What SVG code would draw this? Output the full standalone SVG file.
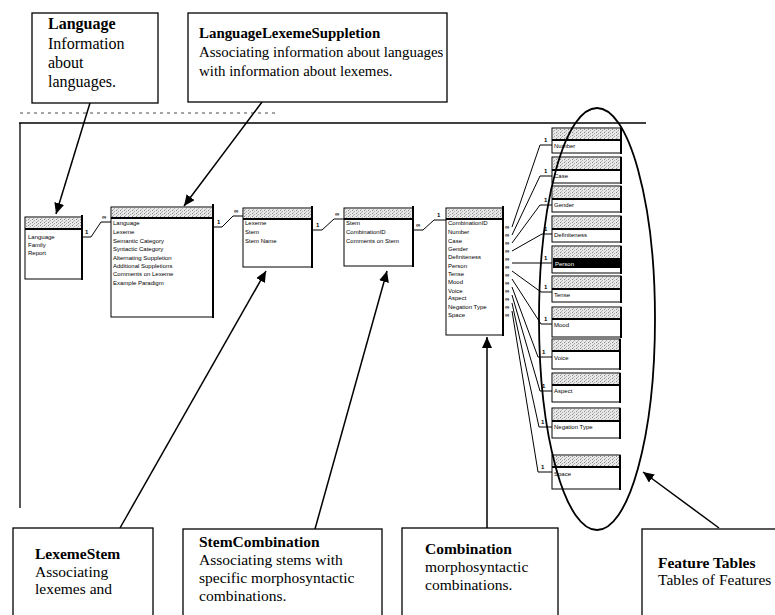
<svg xmlns="http://www.w3.org/2000/svg" width="775" height="615" viewBox="0 0 775 615">
<defs>
<style>
.callout{fill:#fff;stroke:#000;stroke-width:1.3}
.ct{font-family:"Liberation Serif","Times New Roman",serif;font-size:15.5px;fill:#000}
.bold{font-weight:bold}
.tbl{fill:#fff;stroke:#000;stroke-width:1}
.edge{stroke:#000;stroke-width:2;fill:none}
.hdr{fill:url(#hatch);stroke:none}
.fld{font-family:"Liberation Sans",Arial,sans-serif;font-size:6px;fill:#000}
.arrow{stroke:#000;stroke-width:1.5;fill:none;marker-end:url(#ah)}
.rel{stroke:#000;stroke-width:1;fill:none}
.lbl{font-family:"Liberation Sans",Arial,sans-serif;font-size:6px;font-weight:bold;fill:#000}
.frame{stroke:#000;stroke-width:1.3;fill:none}
</style>
<pattern id="hatch" width="4" height="3" patternUnits="userSpaceOnUse">
<rect width="4" height="3" fill="#e8e8e8"/>
<rect x="0" y="0" width="1" height="1" fill="#888"/>
<rect x="2" y="1" width="1" height="1" fill="#aaa"/>
<rect x="1" y="2" width="1" height="1" fill="#bbb"/>
</pattern>
<marker id="ah" markerWidth="12" markerHeight="12" refX="11" refY="5" orient="auto" markerUnits="userSpaceOnUse">
<path d="M0,0 L11,5 L0,10 z" fill="#000"/>
</marker>
</defs>
<rect width="775" height="615" fill="#fff"/>

<!-- screenshot frame -->
<g id="frame">
<line class="frame" x1="19" y1="123" x2="646" y2="123"/>
<line class="frame" x1="20" y1="123" x2="20" y2="508"/>
<line x1="20" y1="113" x2="275" y2="113" stroke="#888" stroke-width="1.5" stroke-dasharray="3,4"/>
</g>

<!-- connectors -->
<g id="connectors">
<line class="arrow" x1="90" y1="103" x2="56" y2="214"/>
<line class="arrow" x1="262" y1="102" x2="184" y2="206"/>
<line class="arrow" x1="120" y1="528" x2="266" y2="271"/>
<line class="arrow" x1="315" y1="529" x2="387" y2="271"/>
<line class="arrow" x1="487" y1="528" x2="487" y2="337"/>
<line class="arrow" x1="719" y1="528" x2="643" y2="472"/>
<!-- relationships -->
<polyline class="rel" points="82,237 91,237 101,222 111,222"/>
<text class="lbl" x="85" y="234">1</text>
<text class="lbl" x="102" y="219">∞</text>
<polyline class="rel" points="214,227 222,227 233,216 243,216"/>
<text class="lbl" x="217" y="224">1</text>
<text class="lbl" x="234" y="213">∞</text>
<polyline class="rel" points="313,230 322,230 334,219 344,219"/>
<text class="lbl" x="316" y="227">1</text>
<text class="lbl" x="335" y="216">∞</text>
<polyline class="rel" points="414,230 423,230 434,220 446,220"/>
<text class="lbl" x="416" y="227">∞</text>
<text class="lbl" x="437" y="217">1</text>
<!-- combination to features -->
<g class="rel">
<polyline points="512,227 540,145 552,145"/>
<polyline points="512,235 540,176 552,176"/>
<polyline points="512,243 540,205 552,205"/>
<polyline points="512,251 542,234 552,234"/>
<polyline points="512,263 552,263"/>
<polyline points="512,271 541,292 552,292"/>
<polyline points="512,279 541,324 552,324"/>
<polyline points="512,287 538,357 552,357"/>
<polyline points="512,295 540,391 552,391"/>
<polyline points="512,303 539,427 552,427"/>
<polyline points="512,311 538,472 552,472"/>
</g>
<g>
<text class="lbl" x="505" y="229">∞</text><text class="lbl" x="505" y="237">∞</text>
<text class="lbl" x="505" y="245">∞</text><text class="lbl" x="505" y="253">∞</text>
<text class="lbl" x="505" y="261">∞</text><text class="lbl" x="505" y="269">∞</text>
<text class="lbl" x="505" y="277">∞</text><text class="lbl" x="505" y="285">∞</text>
<text class="lbl" x="505" y="293">∞</text><text class="lbl" x="505" y="301">∞</text>
<text class="lbl" x="505" y="309">∞</text><text class="lbl" x="505" y="317">∞</text>
</g>
<text class="lbl" x="544" y="142">1</text>
<text class="lbl" x="544" y="173">1</text>
<text class="lbl" x="544" y="202">1</text>
<text class="lbl" x="544" y="231">1</text>
<text class="lbl" x="544" y="260">1</text>
<text class="lbl" x="544" y="289">1</text>
<text class="lbl" x="544" y="321">1</text>
<text class="lbl" x="542" y="354">1</text>
<text class="lbl" x="542" y="388">1</text>
<text class="lbl" x="541" y="424">1</text>
<text class="lbl" x="541" y="469">1</text>
</g>

<!-- tables -->
<g id="tbl-language">
<rect class="tbl" x="25" y="217" width="57" height="62"/>
<rect class="hdr" x="26" y="218" width="55" height="10"/>
<line class="edge" x1="25" y1="229" x2="82" y2="229"/>
<line class="edge" x1="82" y1="215" x2="82" y2="280"/>
<text class="fld" x="28" y="239">Language</text>
<text class="fld" x="28" y="247">Family</text>
<text class="fld" x="28" y="255">Report</text>
</g>
<g id="tbl-lls">
<rect class="tbl" x="111" y="207" width="102" height="110"/>
<rect class="hdr" x="112" y="208" width="100" height="10"/>
<line class="edge" x1="111" y1="218" x2="213" y2="218"/>
<line class="edge" x1="213" y1="204" x2="213" y2="318"/>
<text class="fld" x="113" y="225">Language</text>
<text class="fld" x="113" y="234">Lexeme</text>
<text class="fld" x="113" y="243">Semantic Category</text>
<text class="fld" x="113" y="251">Syntactic Category</text>
<text class="fld" x="113" y="260">Alternating Suppletion</text>
<text class="fld" x="113" y="268">Additional Suppletions</text>
<text class="fld" x="113" y="276">Comments on Lexeme</text>
<text class="fld" x="113" y="285">Example Paradigm</text>
</g>
<g id="tbl-lexemestem">
<rect class="tbl" x="243" y="208" width="69" height="59"/>
<rect class="hdr" x="244" y="209" width="67" height="10"/>
<line class="edge" x1="243" y1="219" x2="312" y2="219"/>
<line class="edge" x1="312" y1="206" x2="312" y2="268"/>
<text class="fld" x="245" y="225">Lexeme</text>
<text class="fld" x="245" y="234">Stem</text>
<text class="fld" x="245" y="243">Stem Name</text>
</g>
<g id="tbl-stemcombination">
<rect class="tbl" x="344" y="208" width="69" height="58"/>
<rect class="hdr" x="345" y="209" width="67" height="10"/>
<line class="edge" x1="344" y1="219" x2="413" y2="219"/>
<line class="edge" x1="413" y1="206" x2="413" y2="267"/>
<text class="fld" x="346" y="225">Stem</text>
<text class="fld" x="346" y="234">CombinationID</text>
<text class="fld" x="346" y="243">Comments on Stem</text>
</g>
<g id="tbl-combination">
<rect class="tbl" x="446" y="208" width="57" height="127"/>
<rect class="hdr" x="447" y="209" width="55" height="10"/>
<line class="edge" x1="446" y1="219" x2="503" y2="219"/>
<line class="edge" x1="503" y1="206" x2="503" y2="336"/>
<text class="fld" x="448" y="225">CombinationID</text>
<text class="fld" x="448" y="234">Number</text>
<text class="fld" x="448" y="243">Case</text>
<text class="fld" x="448" y="251">Gender</text>
<text class="fld" x="448" y="259">Definiteness</text>
<text class="fld" x="448" y="268">Person</text>
<text class="fld" x="448" y="276">Tense</text>
<text class="fld" x="448" y="284">Mood</text>
<text class="fld" x="448" y="293">Voice</text>
<text class="fld" x="448" y="300">Aspect</text>
<text class="fld" x="448" y="309">Negation Type</text>
<text class="fld" x="448" y="317">Space</text>
</g>

<!-- feature tables -->
<g id="ft-number"><rect class="tbl" x="552" y="128" width="69" height="25"/><rect class="hdr" x="553" y="129" width="67" height="11"/><line class="edge" x1="552" y1="140" x2="621" y2="140"/><line class="edge" x1="621" y1="128" x2="621" y2="154"/><text class="fld" x="554" y="148">Number</text></g>
<g id="ft-case"><rect class="tbl" x="552" y="157" width="69" height="26"/><rect class="hdr" x="553" y="158" width="67" height="12"/><line class="edge" x1="552" y1="170" x2="621" y2="170"/><line class="edge" x1="621" y1="157" x2="621" y2="184"/><text class="fld" x="554" y="178">Case</text></g>
<g id="ft-gender"><rect class="tbl" x="552" y="186" width="69" height="26"/><rect class="hdr" x="553" y="187" width="67" height="12"/><line class="edge" x1="552" y1="199" x2="621" y2="199"/><line class="edge" x1="621" y1="186" x2="621" y2="213"/><text class="fld" x="554" y="207">Gender</text></g>
<g id="ft-definiteness"><rect class="tbl" x="552" y="216" width="69" height="26"/><rect class="hdr" x="553" y="217" width="67" height="12"/><line class="edge" x1="552" y1="229" x2="621" y2="229"/><line class="edge" x1="621" y1="216" x2="621" y2="243"/><text class="fld" x="554" y="237">Definiteness</text></g>
<g id="ft-person"><rect class="tbl" x="552" y="246" width="69" height="27"/><rect class="hdr" x="553" y="247" width="67" height="11"/><rect x="553" y="258" width="67" height="10" fill="#000"/><line class="edge" x1="621" y1="246" x2="621" y2="274"/><text class="fld" x="555" y="266" style="fill:#fff">Person</text></g>
<g id="ft-tense"><rect class="tbl" x="552" y="276" width="69" height="26"/><rect class="hdr" x="553" y="277" width="67" height="12"/><line class="edge" x1="552" y1="289" x2="621" y2="289"/><line class="edge" x1="621" y1="276" x2="621" y2="303"/><text class="fld" x="554" y="297">Tense</text></g>
<g id="ft-mood"><rect class="tbl" x="552" y="307" width="69" height="30"/><rect class="hdr" x="553" y="308" width="67" height="11"/><line class="edge" x1="552" y1="319" x2="621" y2="319"/><line class="edge" x1="621" y1="307" x2="621" y2="338"/><text class="fld" x="554" y="327">Mood</text></g>
<g id="ft-voice"><rect class="tbl" x="552" y="339" width="68" height="30"/><rect class="hdr" x="553" y="340" width="66" height="11"/><line class="edge" x1="552" y1="351" x2="620" y2="351"/><line class="edge" x1="620" y1="339" x2="620" y2="370"/><text class="fld" x="554" y="360">Voice</text></g>
<g id="ft-aspect"><rect class="tbl" x="552" y="373" width="68" height="29"/><rect class="hdr" x="553" y="374" width="66" height="11"/><line class="edge" x1="552" y1="385" x2="620" y2="385"/><line class="edge" x1="620" y1="373" x2="620" y2="403"/><text class="fld" x="554" y="393">Aspect</text></g>
<g id="ft-negation"><rect class="tbl" x="552" y="408" width="68" height="30"/><rect class="hdr" x="553" y="409" width="66" height="11"/><line class="edge" x1="552" y1="421" x2="620" y2="421"/><line class="edge" x1="620" y1="408" x2="620" y2="439"/><text class="fld" x="554" y="429">Negation Type</text></g>
<g id="ft-space"><rect class="tbl" x="552" y="455" width="68" height="34"/><rect class="hdr" x="553" y="456" width="66" height="11"/><line class="edge" x1="552" y1="467" x2="620" y2="467"/><line class="edge" x1="620" y1="455" x2="620" y2="490"/><text class="fld" x="554" y="476">Space</text></g>

<g id="ellipse">
<ellipse cx="597" cy="319" rx="58" ry="211" fill="none" stroke="#000" stroke-width="1.8"/>
</g>

<!-- callouts -->
<g id="callout-language">
<rect class="callout" x="32" y="13" width="126" height="90"/>
<text class="ct" style="font-size:16px" x="48" y="29"><tspan class="bold">Language</tspan><tspan x="48" y="48.5">Information</tspan><tspan x="48" y="68">about</tspan><tspan x="48" y="87">languages.</tspan></text>
</g>
<g id="callout-lls">
<rect class="callout" x="188" y="13" width="259" height="89"/>
<text class="ct" style="font-size:14.9px" x="199" y="38"><tspan class="bold">LanguageLexemeSuppletion</tspan><tspan x="199" y="57">Associating information about languages</tspan><tspan x="199" y="75.5">with information about lexemes.</tspan></text>
</g>
<g id="callout-lexemestem">
<rect class="callout" x="13" y="528" width="140" height="95"/>
<text class="ct" x="35" y="559"><tspan class="bold">LexemeStem</tspan><tspan x="35" y="577">Associating</tspan><tspan x="35" y="594">lexemes and</tspan></text>
</g>
<g id="callout-stemcombination">
<rect class="callout" x="183" y="529" width="199" height="94"/>
<text class="ct" x="199" y="547"><tspan class="bold">StemCombination</tspan><tspan x="199" y="565">Associating stems with</tspan><tspan x="199" y="583">specific morphosyntactic</tspan><tspan x="199" y="601">combinations.</tspan></text>
</g>
<g id="callout-combination">
<rect class="callout" x="402" y="528" width="156" height="95"/>
<text class="ct" x="425" y="554"><tspan class="bold">Combination</tspan><tspan x="425" y="572">morphosyntactic</tspan><tspan x="425" y="590">combinations.</tspan></text>
</g>
<g id="callout-features">
<rect class="callout" x="642" y="529" width="140" height="94"/>
<text class="ct" x="658" y="568"><tspan class="bold">Feature Tables</tspan><tspan x="658" y="585">Tables of Features</tspan></text>
</g>
</svg>
